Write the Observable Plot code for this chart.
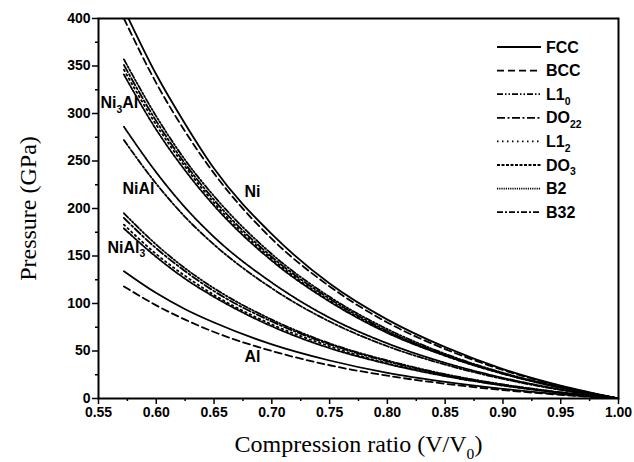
<!DOCTYPE html>
<html><head><meta charset="utf-8">
<script src="https://cdn.jsdelivr.net/npm/d3@7"></script>
<script src="https://cdn.jsdelivr.net/npm/@observablehq/plot@0.6"></script>
<style>
html,body{margin:0;padding:0;background:#fff;overflow:hidden}
#chart{position:relative;width:634px;height:462px}
#chart svg text{fill:#000}
#chart [aria-label="x-axis label"] text,
#chart [aria-label="y-axis label"] text{font-family:"Liberation Serif","Times New Roman",serif;font-size:24px;font-weight:normal}
</style></head><body><div id="chart"></div>
<script>
// Compression ratio V/V0 sample points
const ratio = [0.572, 0.60, 0.625, 0.65, 0.70, 0.75, 0.80, 0.85, 0.90, 0.95, 1.00];
// Pressures (GPa)
const niFCC    = [410, 341, 289, 242, 173, 121, 83, 54, 31, 13.5, 0];
const niBCC    = [400, 332, 281, 237, 168, 118, 80, 52, 30, 13, 0];
const ni3alL10 = [357, 297, 251, 213, 152, 107, 73, 47, 27, 12, 0];
const ni3alDO22= [351, 292, 247, 209, 149, 105, 71, 46, 26.6, 11.6, 0];
const ni3alL12 = [346, 288, 244, 206, 147, 103, 70, 45, 26, 11.5, 0];
const ni3alDO3 = [341, 283, 240, 203, 145, 102, 69, 45, 26, 11.3, 0];
const nialB2   = [286, 238, 201, 170, 122, 85, 58, 37.5, 21.7, 9.5, 0];
const nialB32  = [272, 226, 191, 162, 116, 81, 55, 35.7, 20.6, 9, 0];
const nial3L10 = [195, 162, 137, 116, 83, 58, 40, 25.6, 14.8, 6.5, 0];
const nial3DO22= [190, 158, 134, 113, 81, 57, 39, 25, 14.4, 6.3, 0];
const nial3L12 = [183, 152, 129, 109, 78, 55, 37, 24, 13.9, 6.1, 0];
const nial3DO3 = [179, 149, 126, 107, 76, 53, 36.4, 23.5, 13.6, 5.9, 0];
const alFCC    = [134, 111, 94, 80, 57, 40, 27, 17.6, 10.2, 4.4, 0];
const alBCC    = [118, 98, 83, 70, 50, 35, 24, 15.5, 8.9, 3.9, 0];

const structures = ["FCC", "BCC", "L1₀", "DO₂₂", "L1₂", "DO₃", "B2", "B32"];
const curves = [
  ["Ni", "FCC", niFCC], ["Ni", "BCC", niBCC],
  ["Ni₃Al", "L1₀", ni3alL10], ["Ni₃Al", "DO₂₂", ni3alDO22], ["Ni₃Al", "L1₂", ni3alL12], ["Ni₃Al", "DO₃", ni3alDO3],
  ["NiAl", "B2", nialB2], ["NiAl", "B32", nialB32],
  ["NiAl₃", "L1₀", nial3L10], ["NiAl₃", "DO₂₂", nial3DO22], ["NiAl₃", "L1₂", nial3L12], ["NiAl₃", "DO₃", nial3DO3],
  ["Al", "FCC", alFCC], ["Al", "BCC", alBCC]
];

const xTicks = [0.55, 0.60, 0.65, 0.70, 0.75, 0.80, 0.85, 0.90, 0.95, 1.00];
const xMinor = [0.575, 0.625, 0.675, 0.725, 0.775, 0.825, 0.875, 0.925, 0.975];
const yTicks = [0, 50, 100, 150, 200, 250, 300, 350, 400];
const yMinor = [25, 75, 125, 175, 225, 275, 325, 375];

const labelText = ["Ni", "Ni₃Al", "NiAl", "NiAl₃", "Al"];
const labelX = [0.6763, 0.5517, 0.5708, 0.5578, 0.6763];
const labelY = [218, 311, 221, 159, 44];

// styles
const dash = {"FCC": null, "BCC": "7,4", "L1₀": "6,2,1.5,2,1.5,2", "DO₂₂": "8,2.5,2,2.5",
  "L1₂": "1.5,3.5", "DO₃": "3,1.5", "B2": "1.2,1", "B32": "6,2,2,2"};

const table = curves.flatMap(([compound, structure, values]) =>
  values.map((p, i) => ({compound, structure, ratio: ratio[i], pressure: p})));
const labels = labelText.map((t, i) => ({t, x: labelX[i], y: labelY[i]}));

const fmt = d3.format(".2f");
const plot = Plot.plot({
  width: 634, height: 462,
  marginLeft: 98, marginRight: 16, marginTop: 18, marginBottom: 64,
  style: {fontFamily: "'Liberation Sans', Arial, sans-serif", fontSize: "14px", fontWeight: "bold", background: "#fff", color: "#000", overflow: "visible"},
  x: {domain: [0.55, 1.0], label: "Compression ratio (V/V₀)"},
  y: {domain: [0, 400], label: "Pressure (GPa)"},
  marks: [
    Plot.axisX(xTicks, {tickSize: 6, tickPadding: 3, tickFormat: fmt, strokeWidth: 1.5,
      label: "Compression ratio (V/V₀)", labelAnchor: "center", labelOffset: 53, labelArrow: false}),
    Plot.axisX(xMinor, {tickSize: 3, tickFormat: () => "", strokeWidth: 1.5, label: null}),
    Plot.axisY(yTicks, {tickSize: 6, tickPadding: 2, strokeWidth: 1.5,
      label: "Pressure (GPa)", labelAnchor: "center", labelOffset: 80, labelArrow: false}),
    Plot.axisY(yMinor, {tickSize: 3, tickFormat: () => "", strokeWidth: 1.5, label: null}),
    ...structures.map(s => Plot.line(table.filter(d => d.structure === s), {
      x: "ratio", y: "pressure", z: "compound", curve: "monotone-x",
      stroke: "#000", strokeWidth: 1.8, strokeDasharray: dash[s], clip: true
    })),
    Plot.text(labels, {x: "x", y: "y", text: "t", textAnchor: "start", fontSize: 16, fontWeight: "bold"}),
    Plot.frame({stroke: "#000", strokeWidth: 2})
  ]
});
document.getElementById("chart").appendChild(plot);

// legend (inside plot, top right)
const lg = d3.select(plot).append("g")
  .attr("font-family", "'Liberation Sans', Arial, sans-serif")
  .attr("font-size", 16).attr("font-weight", "bold").attr("text-anchor", "start");
structures.forEach((s, i) => {
  const y = 47 + i * 23.6;
  lg.append("line").attr("x1", 497).attr("x2", 541).attr("y1", y).attr("y2", y)
    .attr("stroke", "#000").attr("stroke-width", 1.8).attr("stroke-dasharray", dash[s]);
  lg.append("text").attr("x", 546).attr("y", y).attr("dy", "0.35em").attr("text-anchor", "start")
    .attr("fill", "#000").text(s);
});

// convert unicode subscript digits into lowered tspans
function subscriptify(root) {
  root.querySelectorAll("text, tspan").forEach(el => {
    if (el.children.length) return;
    const s = el.textContent;
    if (!/[\u2080-\u2089]/.test(s)) return;
    const fs = parseFloat(getComputedStyle(el).fontSize) || 14;
    const shift = fs * 0.3;
    el.textContent = "";
    const runs = s.match(/[\u2080-\u2089]+|[^\u2080-\u2089]+/g);
    let lowered = false;
    for (const r of runs) {
      const t = document.createElementNS("http://www.w3.org/2000/svg", "tspan");
      if (/[\u2080-\u2089]/.test(r)) {
        t.textContent = [...r].map(c => String.fromCharCode(c.charCodeAt(0) - 0x2080 + 48)).join("");
        t.setAttribute("font-size", (fs * 0.65).toFixed(1));
        t.setAttribute("dy", shift.toFixed(1));
        lowered = true;
      } else {
        t.textContent = r;
        if (lowered) { t.setAttribute("dy", (-shift).toFixed(1)); lowered = false; }
      }
      el.appendChild(t);
    }
  });
}
subscriptify(plot);
</script>
</body></html>
